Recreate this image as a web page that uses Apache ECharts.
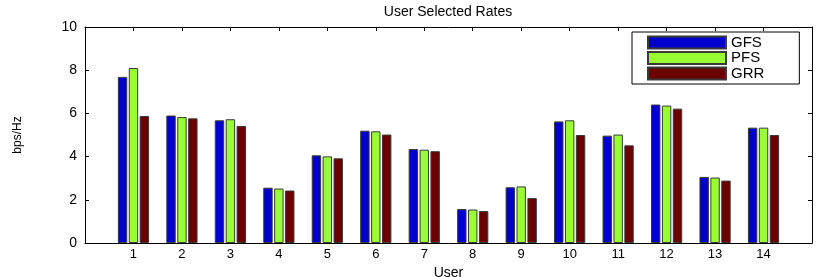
<!DOCTYPE html>
<html>
<head>
<meta charset="utf-8">
<script src="https://cdn.jsdelivr.net/npm/echarts@6/dist/echarts.min.js"></script>
<style>
html,body{margin:0;padding:0;background:#fff;}
#chart{width:830px;height:277px;}
</style>
</head>
<body>
<div id="chart"></div>
<script>
// Data
var users = ['1','2','3','4','5','6','7','8','9','10','11','12','13','14'];
var gfs = [7.69, 5.90, 5.68, 2.56, 4.06, 5.20, 4.35, 1.57, 2.58, 5.63, 4.97, 6.41, 3.06, 5.34];
var pfs = [8.10, 5.83, 5.73, 2.52, 4.01, 5.17, 4.32, 1.55, 2.62, 5.68, 5.02, 6.36, 3.03, 5.34];
var grr = [5.88, 5.77, 5.42, 2.43, 3.92, 5.02, 4.25, 1.48, 2.08, 5.00, 4.52, 6.22, 2.89, 5.00];
var yTicks = [0, 2, 4, 6, 8, 10];

// padded categories so that x limits are [0, 15] like the original
var cats = [''].concat(users).concat(['']);
function pad(a){ return ['-'].concat(a).concat(['-']); }

var FONT = 'Liberation Sans';
var chart = echarts.init(document.getElementById('chart'), null, {renderer:'canvas'});
var barCommon = {
  type: 'bar',
  barWidth: 9.4,
  barGap: '16%',
  animation: false
};
function mk(name, data, color){
  return Object.assign({}, barCommon, {
    name: name,
    data: pad(data),
    itemStyle: {color: color, borderColor: '#3a3a3a', borderWidth: 1}
  });
}
chart.setOption({
  animation: false,
  backgroundColor: '#ffffff',
  title: {
    text: 'User Selected Rates',
    left: 448, top: 5, padding: 0, textAlign: 'center',
    textStyle: {fontFamily: FONT, fontSize: 14, fontWeight: 'normal', color: '#000'}
  },
  grid: {left: 85, right: 18, top: 27, bottom: 34, outerBoundsMode: 'none', containLabel: false},
  legend: {
    orient: 'vertical',
    left: 632, top: 32,
    padding: [3, 35, 3, 15],
    itemWidth: 78, itemHeight: 12, itemGap: 0.5, itemTextGap: 10,
    icon: 'rect',
    backgroundColor: '#fff',
    borderColor: '#000', borderWidth: 1, borderRadius: 0,
    textStyle: {fontFamily: FONT, fontSize: 15, color: '#000'},
    data: ['GFS', 'PFS', 'GRR']
  },
  xAxis: [{
    type: 'category', data: cats, boundaryGap: false,
    name: 'User', nameLocation: 'middle', nameGap: 19,
    nameTextStyle: {fontFamily: FONT, fontSize: 14, color: '#000'},
    axisLine: {show: true, lineStyle: {color: '#000', width: 1}},
    axisTick: {inside: true, length: 4, lineStyle: {color: '#000'}},
    axisLabel: {interval: 0, margin: 5, fontFamily: FONT, fontSize: 13, color: '#000'},
    splitLine: {show: false}
  }, {
    type: 'category', data: cats, boundaryGap: false, position: 'top',
    axisLine: {show: true, onZero: false, lineStyle: {color: '#000', width: 1}},
    axisTick: {show: true, inside: true, length: 4, lineStyle: {color: '#000'}},
    axisLabel: {show: false},
    splitLine: {show: false}
  }],
  yAxis: [{
    type: 'value', min: 0, max: 10, interval: 2,
    name: 'bps/Hz', nameLocation: 'middle', nameGap: 61,
    nameTextStyle: {fontFamily: FONT, fontSize: 12, color: '#000'},
    axisLine: {show: true, lineStyle: {color: '#000', width: 1}},
    axisTick: {show: true, inside: true, length: 4, lineStyle: {color: '#000'}},
    axisLabel: {margin: 8, fontFamily: FONT, fontSize: 14, color: '#000',
      formatter: function(v){ return yTicks.indexOf(v) >= 0 ? String(v) : ''; }},
    splitLine: {show: false}
  }, {
    type: 'value', min: 0, max: 10, interval: 2, position: 'right',
    axisLine: {show: true, onZero: false, lineStyle: {color: '#000', width: 1}},
    axisTick: {show: true, inside: true, length: 4, lineStyle: {color: '#000'}},
    axisLabel: {show: false},
    splitLine: {show: false}
  }],
  series: [
    mk('GFS', gfs, '#0000cc'),
    mk('PFS', pfs, '#99ff33'),
    mk('GRR', grr, '#6b0000')
  ]
});
</script>
</body>
</html>
